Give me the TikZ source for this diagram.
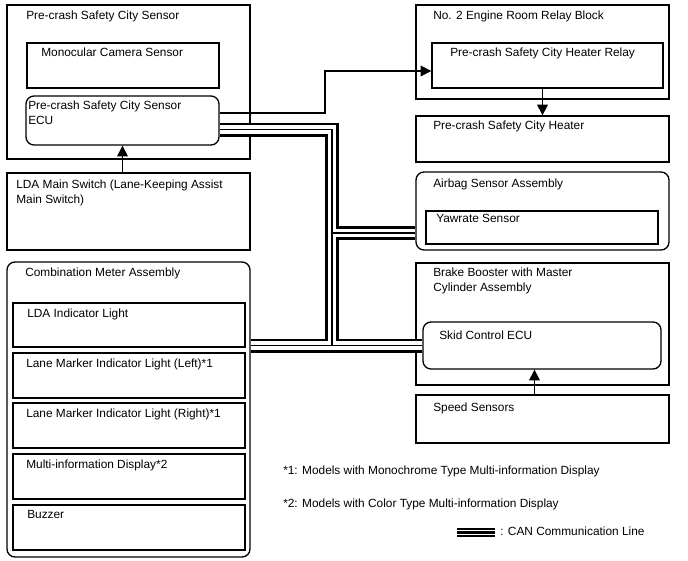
\documentclass[tikz,border=0pt]{standalone}
\usepackage{fontspec}
\setmainfont{Liberation Sans}
\usetikzlibrary{arrows.meta,fit}

\tikzset{
  unit/.style={draw,line width=1pt,inner sep=0pt},
  ecu/.style={unit,rounded corners=6pt},
  lbl/.style={anchor=base west,inner sep=0pt,align=left,font=\fontsize{8.9}{10.9}\selectfont},
  sig/.style={line width=0.9pt,-{Triangle[length=8pt,width=8pt]}},
}

% CAN bus paths, drawn three times (outer, gap, middle)
\newcommand\canpaths{
  (ecu.east |- j1) -- (j1) -- (j3)
  (j2) -- (airbag.west |- j2)
  (meter.east |- j3) -- (skid.west |- j3)
}

\begin{document}
\begin{tikzpicture}[x=0.75pt,y=-0.75pt]
  \useasboundingbox (0,0) rectangle (688,560);

  % left column
  \node[unit,fit={(7,5) (250,159)}] (pcs) {};
  \node[unit,fit={(27,43) (219,88)}] (cam) {};
  \node[ecu,fit={(26,96) (219,145)}] (ecu) {};
  \node[unit,fit={(7,173) (250,250)}] (lda) {};
  \node[ecu,fit={(7,262) (250,557)}] (meter) {};
  \node[unit,fit={(13,303) (245,347)}] (ldai) {};
  \node[unit,fit={(13,353) (245,398)}] (lml) {};
  \node[unit,fit={(13,403) (245,448)}] (lmr) {};
  \node[unit,fit={(13,454) (245,499)}] (mid) {};
  \node[unit,fit={(13,505) (245,550)}] (buz) {};

  % right column
  \node[unit,fit={(416,5) (669,99)}] (rb) {};
  \node[unit,fit={(432,43) (663,88)}] (relay) {};
  \node[unit,fit={(416,116) (669,162)}] (heater) {};
  \node[ecu,fit={(416,172) (669,250)}] (airbag) {};
  \node[unit,fit={(426,211) (658,244)}] (yaw) {};
  \node[unit,fit={(416,263) (669,385)}] (brake) {};
  \node[ecu,fit={(423,322) (661,369)}] (skid) {};
  \node[unit,fit={(416,395) (669,443)}] (speed) {};

  % texts (base = last line)
  \node[lbl] (pcs-t) at (26,19.5) {Pre-crash Safety City Sensor};
  \node[lbl] (cam-t) at (41,56) {Monocular Camera Sensor};
  \node[lbl] (ecu-t) at (28,124) {Pre-crash Safety City Sensor\\ECU};
  \node[lbl] (lda-t) at (16,203) {LDA Main Switch (Lane-Keeping Assist\\Main Switch)};
  \node[lbl] (meter-t) at (25,276.5) {Combination Meter Assembly};
  \node[lbl] (ldai-t) at (27,317) {LDA Indicator Light};
  \node[lbl] (lml-t) at (26,367) {Lane Marker Indicator Light (Left)*1};
  \node[lbl] (lmr-t) at (26,417.5) {Lane Marker Indicator Light (Right)*1};
  \node[lbl] (mid-t) at (26,468) {Multi-information Display*2};
  \node[lbl] (buz-t) at (27,518) {Buzzer};
  \node[lbl] (rb-t) at (433,20) {No. 2 Engine Room Relay Block};
  \node[lbl] (relay-t) at (450,57) {Pre-crash Safety City Heater Relay};
  \node[lbl] (heater-t) at (433,129) {Pre-crash Safety City Heater};
  \node[lbl] (airbag-t) at (433,187) {Airbag Sensor Assembly};
  \node[lbl] (yaw-t) at (436,222) {Yawrate Sensor};
  \node[lbl] (brake-t) at (433,291) {Brake Booster with Master\\Cylinder Assembly};
  \node[lbl] (skid-t) at (439,339) {Skid Control ECU};
  \node[lbl] (speed-t) at (433,411) {Speed Sensors};
  \node[lbl] (note1) at (283,474) {*1: Models with Monochrome Type Multi-information Display};
  \node[lbl] (note2) at (283,507) {*2: Models with Color Type Multi-information Display};
  \node[lbl] (can-t) at (500,535.5) {: CAN Communication Line};

  % signal lines
  \coordinate (k1) at (325,113);
  \coordinate (k2) at (325,71);
  \draw[sig] (ecu.east |- k1) -- (k1) -- (k2) -- (relay.west |- k2);
  \draw[sig] (ecu.south |- lda.north) -- (ecu.south);
  \draw[sig] (heater.north |- relay.south) -- (heater.north);
  \draw[sig] ([xshift=-6pt]speed.north) -- ([xshift=-6pt]speed.north |- skid.south);

  % CAN communication lines
  \coordinate (j1) at (332,129.5);
  \coordinate (j2) at (332,233);
  \coordinate (j3) at (332,345.5);
  \draw[line width=10.5pt] \canpaths;
  \draw[white,line width=6.6pt] \canpaths;
  \draw[line width=0.8pt] \canpaths;

  % legend
  \coordinate (lg1) at (457,532.5);
  \coordinate (lg2) at (495,532.5);
  \draw[line width=7pt] (lg1) -- (lg2);
  \draw[white,line width=3.2pt] (lg1) -- (lg2);
  \draw[line width=1.8pt] (lg1) -- (lg2);
\end{tikzpicture}
\end{document}
